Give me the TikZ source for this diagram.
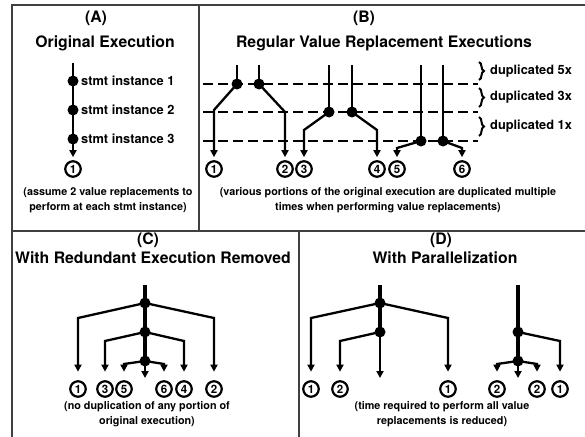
\documentclass[tikz,border=0pt]{standalone}
\usepackage{fontspec}
\setmainfont{TeX Gyre Heros}
\usetikzlibrary{arrows.meta,decorations.pathreplacing}
\begin{document}
\begin{tikzpicture}[x=1pt,y=-1pt,
  every node/.style={font=\bfseries},
  ttl/.style={font=\bfseries\fontsize{15.8}{18}\selectfont, inner sep=0},
  lbl/.style={font=\bfseries\fontsize{12.8}{14}\selectfont, anchor=west, inner sep=0},
  captxt/.style={font=\bfseries\fontsize{10.8}{15}\selectfont, align=center, inner sep=0},
  dotn/.style={circle, fill=black, minimum size=11pt, inner sep=0},
  numc/.style={circle, draw, line width=2.2pt, minimum size=15.5pt, inner sep=0, font=\bfseries\fontsize{11.5}{11.5}\selectfont},
  flow/.style={line width=2.3pt},
  stemline/.style={line width=4.5pt},
  arr/.style={flow, -{Triangle[length=7pt,width=7pt]}},
  arrtop/.style={arr, shorten >=3pt},
  arrbot/.style={arr, shorten >=8.5pt},
  panelrule/.style={line width=1.2pt, draw=black!75},
  sepline/.style={line width=2.2pt, dash pattern=on 10pt off 5pt},
  bracel/.style={line width=2pt, decorate, decoration={brace, amplitude=5pt}}
]
\useasboundingbox (0,0) rectangle (585,436);

% frame
\coordinate (f1) at (12,5);
\coordinate (f2) at (586,5);
\coordinate (f3) at (12,437);
\coordinate (f4) at (12,231);
\coordinate (f5) at (586,231);
\coordinate (f6) at (199,5);
\coordinate (f7) at (199,231);
\coordinate (f8) at (299,231);
\coordinate (f9) at (299,437);
\draw[panelrule] (f3) -- (f1) -- (f2);
\draw[panelrule] (f4) -- (f5);
\draw[panelrule] (f6) -- (f7);
\draw[panelrule] (f8) -- (f9);

% ---------- (A)
\node[ttl] (ta) at (96,18) {(A)};
\node[ttl] (tta) at (105,43) {Original Execution};
\coordinate (at) at (73,63);
\node[dotn] (a1) at (73,81) {};
\node[dotn] (a2) at (73,110) {};
\node[dotn] (a3) at (73,139) {};
\node[numc] (ca) at (73,169) {1};
\draw[flow] (at) -- (a3.center);
\draw[arrtop] (a3.center) -- (ca);
\node[lbl] (la1) at (81,81) {stmt instance 1};
\node[lbl] (la2) at (81,110) {stmt instance 2};
\node[lbl] (la3) at (81,139) {stmt instance 3};
\node[captxt] (capa) at (108,200.5) {(assume 2 value replacements to\\perform at each stmt instance)};

% ---------- (B)
\node[ttl] (tb) at (364,18) {(B)};
\node[ttl] (ttb) at (384,43) {Regular Value Replacement Executions};
\coordinate (d1a) at (203,84);  \coordinate (d1b) at (478,84);
\coordinate (d2a) at (203,112); \coordinate (d2b) at (478,112);
\coordinate (d3a) at (203,141); \coordinate (d3b) at (478,141);
\draw[sepline] (d1a) -- (d1b);
\draw[sepline] (d2a) -- (d2b);
\draw[sepline] (d3a) -- (d3b);

\node[numc] (c1) at (214,169) {1};
\node[numc] (c2) at (285,169) {2};
\node[numc] (c3) at (304,169) {3};
\node[numc] (c4) at (377,169) {4};
\node[numc] (c5) at (397,169) {5};
\node[numc] (c6) at (462,169) {6};

\coordinate (b1t) at (237,65); \node[dotn] (b1d) at (237,84) {}; \coordinate (b1k) at (214,110);
\coordinate (b2t) at (259,65); \node[dotn] (b2d) at (259,84) {}; \coordinate (b2k) at (285,112);
\coordinate (b3t) at (329,65); \node[dotn] (b3d) at (329,112) {}; \coordinate (b3k) at (304,130);
\coordinate (b4t) at (352,65); \node[dotn] (b4d) at (352,112) {}; \coordinate (b4k) at (377,130);
\coordinate (b5t) at (421,65); \node[dotn] (b5d) at (421,141) {}; \coordinate (b5k) at (397,148);
\coordinate (b6t) at (443,65); \node[dotn] (b6d) at (443,141) {}; \coordinate (b6k) at (462,148);
\foreach \i in {1,...,6}{
  \draw[flow] (b\i t) -- (b\i d.center);
  \draw[arrtop] (b\i d.center) -- (b\i k) -- (c\i);
}

\coordinate (br1a) at (479,62);  \coordinate (br1b) at (479,80);
\coordinate (br2a) at (479,88);  \coordinate (br2b) at (479,107);
\coordinate (br3a) at (479,117); \coordinate (br3b) at (479,136);
\draw[bracel] (br1a) -- (br1b);
\draw[bracel] (br2a) -- (br2b);
\draw[bracel] (br3a) -- (br3b);
\node[lbl] (lb1) at (490,71.5) {duplicated 5x};
\node[lbl] (lb2) at (490,97.5) {duplicated 3x};
\node[lbl] (lb3) at (490,126.5) {duplicated 1x};
\node[captxt] (capb) at (388,200.5) {(various portions of the original execution are duplicated multiple\\times when performing value replacements)};

% ---------- (C)
\node[ttl] (tc) at (148,240) {(C)};
\node[ttl] (ttc) at (153,258) {With Redundant Execution Removed};
\coordinate (ct) at (145,285);
\node[dotn] (cd1) at (145,303) {};
\node[dotn] (cd2) at (145,332) {};
\node[dotn] (cd3) at (145,361) {};
\coordinate (cm) at (145,378);
\node[numc] (cc1) at (78,389) {1};
\node[numc] (cc3) at (105,389) {3};
\node[numc] (cc5) at (124,389) {5};
\node[numc] (cc6) at (164,389) {6};
\node[numc] (cc4) at (184,389) {4};
\node[numc] (cc2) at (214,389) {2};
\coordinate (ck1) at (78,318);  \coordinate (ck2) at (214,318);
\coordinate (ck3) at (105,341); \coordinate (ck4) at (184,341);
\coordinate (ck5) at (124,364); \coordinate (ck6) at (164,364);
\draw[stemline] (ct) -- (cd3.center);
\draw[arr] (cd3.center) -- (cm);
\draw[arrbot] (cd1.center) -- (ck1) -- (cc1);
\draw[arrbot] (cd1.center) -- (ck2) -- (cc2);
\draw[arrbot] (cd2.center) -- (ck3) -- (cc3);
\draw[arrbot] (cd2.center) -- (ck4) -- (cc4);
\draw[arrbot] (cd3.center) -- (ck5) -- (cc5);
\draw[arrbot] (cd3.center) -- (ck6) -- (cc6);
\node[captxt] (capc) at (147,414.5) {(no duplication of any portion of\\original execution)};

% ---------- (D)
\node[ttl] (td) at (441,240) {(D)};
\node[ttl] (ttd) at (445,258) {With Parallelization};
% left tree
\coordinate (dt) at (380,285);
\node[dotn] (dd1) at (380,303) {};
\node[dotn] (dd2) at (380,332) {};
\coordinate (dm) at (380,378);
\node[numc] (dc1) at (311,389) {1};
\node[numc] (dc2) at (340,389) {2};
\node[numc] (dc3) at (448,389) {1};
\coordinate (dk1) at (311,318); \coordinate (dk2) at (448,318);
\coordinate (dk3) at (340,341);
\draw[stemline] (dt) -- (dd2.center);
\draw[arr] (dd2.center) -- (dm);
\draw[arrbot] (dd1.center) -- (dk1) -- (dc1);
\draw[arrbot] (dd1.center) -- (dk2) -- (dc3);
\draw[arrbot] (dd2.center) -- (dk3) -- (dc2);
% right tree
\coordinate (et) at (518,285);
\node[dotn] (ed1) at (518,332) {};
\node[dotn] (ed2) at (518,361) {};
\coordinate (em) at (518,378);
\node[numc] (ec1) at (497,389) {2};
\node[numc] (ec2) at (537,389) {2};
\node[numc] (ec3) at (560,389) {1};
\coordinate (ek1) at (560,341);
\coordinate (ek2) at (497,364); \coordinate (ek3) at (537,364);
\draw[stemline] (et) -- (ed2.center);
\draw[arr] (ed2.center) -- (em);
\draw[arrbot] (ed1.center) -- (ek1) -- (ec3);
\draw[arrbot] (ed2.center) -- (ek2) -- (ec1);
\draw[arrbot] (ed2.center) -- (ek3) -- (ec2);
\node[captxt] (capd) at (442,414.5) {(time required to perform all value\\replacements is reduced)};
\end{tikzpicture}
\end{document}
